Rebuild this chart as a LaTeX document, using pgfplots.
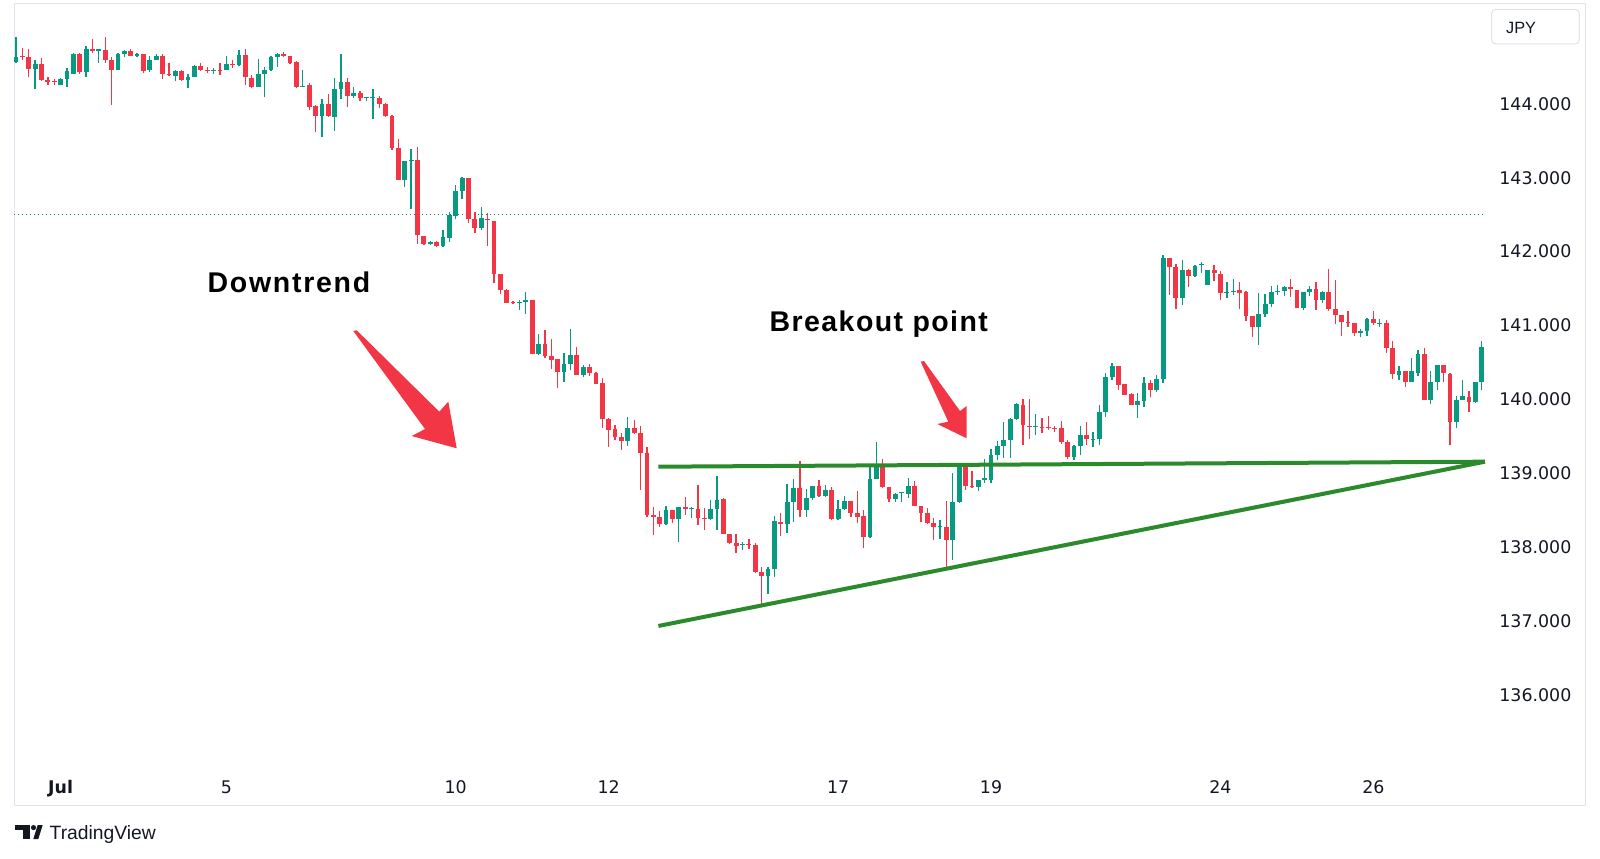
\documentclass[border=0pt]{standalone}
\usepackage{fontspec}
\setmainfont{Liberation Sans}
\newfontfamily\dejavu{DejaVu Sans}
\usepackage{pgfplots}
\usepackage{pgfplotstable}
\pgfplotsset{compat=1.18}
\definecolor{tvgreen}{RGB}{8,153,129}
\definecolor{tvred}{RGB}{242,54,69}
\definecolor{framegray}{RGB}{224,227,235}
\definecolor{txt}{RGB}{19,23,34}
\definecolor{trend}{RGB}{43,138,43}
\definecolor{dotline}{RGB}{20,130,110}

% rising candles (close >= open)
\pgfplotstableread{
i o h l c
0 144.57 144.91 144.56 144.63
3 144.47 144.60 144.20 144.54
7 144.26 144.35 144.25 144.34
8 144.34 144.48 144.23 144.44
9 144.41 144.69 144.41 144.68
11 144.43 144.78 144.37 144.74
13 144.72 144.75 144.56 144.74
16 144.46 144.69 144.46 144.68
17 144.68 144.73 144.63 144.72
19 144.65 144.69 144.64 144.68
21 144.46 144.65 144.43 144.59
22 144.59 144.68 144.59 144.65
25 144.38 144.46 144.31 144.45
27 144.32 144.40 144.21 144.37
28 144.37 144.53 144.37 144.51
31 144.45 144.49 144.41 144.46
33 144.46 144.65 144.46 144.54
35 144.53 144.73 144.51 144.66
38 144.23 144.61 144.23 144.40
39 144.41 144.50 144.09 144.46
40 144.46 144.65 144.45 144.63
41 144.63 144.69 144.50 144.67
45 144.23 144.46 144.23 144.24
48 143.835 144.065 143.55 143.996
50 143.825 144.35 143.63 144.20
51 144.20 144.67 144.06 144.29
53 144.11 144.23 144.075 144.15
55 144.075 144.09 144.04 144.085
56 144.08 144.20 143.80 144.085
61 142.968 143.226 142.878 143.226
62 143.226 143.384 142.58 143.24
65 142.10 142.142 142.087 142.133
67 142.073 142.295 142.065 142.193
68 142.19 142.535 142.13 142.49
69 142.483 142.906 142.437 142.823
70 142.82 143.017 142.71 142.994
73 142.326 142.61 142.29 142.45
79 141.309 141.352 141.214 141.32
80 141.32 141.458 141.15 141.343
82 140.62 140.887 140.597 140.749
86 140.372 140.634 140.234 140.478
87 140.476 140.954 140.393 140.60
89 140.336 140.465 140.304 140.442
96 139.44 139.761 139.37 139.609
102 138.308 138.552 138.299 138.497
104 138.377 138.548 138.07 138.543
106 138.52 138.543 138.391 138.529
109 138.377 138.635 138.368 138.52
110 138.52 138.966 138.23 138.644
114 138.027 138.073 137.967 138.041
118 137.614 137.738 137.37 137.70
119 137.70 138.419 137.60 138.351
121 138.315 138.853 138.195 138.609
122 138.607 138.929 138.345 138.805
124 138.506 138.782 138.414 138.667
125 138.666 138.827 138.643 138.827
127 138.689 138.836 138.68 138.767
129 138.377 138.635 138.368 138.515
130 138.515 138.699 138.508 138.621
134 138.141 139.096 138.119 138.923
135 138.921 139.427 138.921 139.096
138 138.649 138.732 138.617 138.718
139 138.732 138.751 138.617 138.744
140 138.723 138.939 138.663 138.824
145 138.269 138.361 138.117 138.287
147 138.095 138.998 137.826 138.609
148 138.609 139.119 138.595 139.119
151 138.82 138.912 138.765 138.912
152 138.912 139.197 138.866 138.935
153 138.912 139.33 138.866 139.254
154 139.252 139.436 139.174 139.367
155 139.367 139.69 139.206 139.449
156 139.449 139.751 139.206 139.738
157 139.734 139.955 139.725 139.932
160 139.62 139.809 139.519 139.634
166 139.214 139.384 139.186 139.37
167 139.368 139.635 139.244 139.52
169 139.456 139.552 139.35 139.47
170 139.46 139.928 139.382 139.826
171 139.826 140.352 139.756 140.307
172 140.305 140.498 140.268 140.452
176 139.923 140.084 139.748 139.978
177 139.975 140.302 139.897 140.228
179 140.127 140.334 140.095 140.274
180 140.274 141.957 140.216 141.912
183 141.368 141.882 141.276 141.746
185 141.671 141.823 141.653 141.809
186 141.814 141.855 141.717 141.832
187 141.547 141.75 141.547 141.745
190 141.435 141.596 141.366 141.458
191 141.458 141.628 141.412 141.468
195 140.983 141.434 140.73 141.158
196 141.152 141.433 141.12 141.295
197 141.293 141.532 141.256 141.449
198 141.449 141.555 141.417 141.472
199 141.472 141.541 141.403 141.523
202 141.233 141.449 141.21 141.449
203 141.449 141.541 141.394 141.495
205 141.348 141.463 141.311 141.449
211 140.893 140.948 140.838 140.925
212 140.925 141.10 140.856 141.091
214 141.024 141.09 140.975 141.039
217 140.33 140.455 140.265 140.39
219 140.24 140.56 140.24 140.378
220 140.364 140.662 140.32 140.617
222 139.995 140.378 139.94 140.24
223 140.24 140.468 140.13 140.468
226 139.70 140.04 139.61 139.995
227 139.995 140.265 139.99 140.04
229 139.959 140.229 139.95 140.229
230 140.229 140.784 140.13 140.716
}\candlesup

% falling candles (close < open)
\pgfplotstableread{
i o h l c
1 144.64 144.76 144.60 144.63
2 144.63 144.74 144.36 144.47
4 144.54 144.62 144.31 144.32
5 144.32 144.36 144.25 144.30
6 144.30 144.34 144.25 144.29
10 144.68 144.69 144.41 144.43
12 144.74 144.88 144.69 144.72
14 144.73 144.91 144.55 144.59
15 144.59 144.64 143.99 144.46
18 144.72 144.75 144.65 144.65
20 144.68 144.68 144.42 144.45
23 144.65 144.68 144.34 144.40
24 144.40 144.55 144.38 144.39
26 144.45 144.46 144.31 144.32
29 144.51 144.55 144.45 144.46
30 144.46 144.50 144.42 144.45
32 144.46 144.56 144.39 144.45
34 144.54 144.60 144.48 144.53
36 144.66 144.74 144.26 144.36
37 144.35 144.39 144.21 144.23
42 144.67 144.70 144.64 144.65
43 144.65 144.655 144.54 144.56
44 144.57 144.58 144.21 144.23
46 144.25 144.28 143.92 143.96
47 143.97 143.99 143.62 143.835
49 143.996 144.14 143.82 143.83
52 144.29 144.35 143.96 144.11
54 144.15 144.17 144.04 144.075
57 144.075 144.11 143.94 144.00
58 144.00 144.01 143.82 143.835
59 143.835 143.85 143.375 143.397
60 143.397 143.52 142.968 142.968
63 143.24 143.42 142.11 142.225
64 142.216 142.216 142.095 142.10
66 142.133 142.142 142.065 142.073
71 142.998 142.998 142.39 142.437
72 142.44 142.533 142.25 142.326
74 142.444 142.52 142.07 142.425
75 142.42 142.42 141.57 141.696
76 141.70 141.70 141.423 141.478
77 141.48 141.50 141.306 141.306
78 141.31 141.334 141.289 141.306
81 141.343 141.343 140.62 140.62
83 140.749 140.942 140.565 140.583
84 140.585 140.82 140.415 140.539
85 140.542 140.542 140.156 140.372
88 140.60 140.706 140.325 140.334
90 140.442 140.479 140.313 140.359
91 140.361 140.375 140.205 140.214
92 140.216 140.285 139.607 139.728
93 139.73 139.744 139.362 139.592
94 139.594 139.654 139.456 139.493
95 139.495 139.55 139.311 139.44
97 139.608 139.723 139.53 139.539
98 139.539 139.644 138.779 139.27
99 139.27 139.353 138.403 138.435
100 138.437 138.543 138.161 138.405
101 138.405 138.483 138.276 138.308
103 138.497 138.497 138.331 138.377
105 138.543 138.681 138.437 138.515
107 138.52 138.837 138.299 138.391
108 138.391 138.529 138.23 138.377
111 138.646 138.669 138.177 138.177
112 138.178 138.178 138.04 138.058
113 138.059 138.179 137.921 138.013
115 138.041 138.105 137.981 138.032
116 138.033 138.051 137.644 137.667
117 137.668 137.737 137.23 137.613
120 138.341 138.465 138.152 138.318
123 138.803 139.171 138.403 138.504
126 138.827 138.91 138.68 138.689
128 138.768 138.814 138.368 138.377
131 138.63 138.63 138.414 138.469
132 138.469 138.759 138.322 138.414
133 138.417 138.509 137.994 138.141
136 139.107 139.199 138.799 138.813
137 138.815 138.815 138.617 138.649
141 138.824 138.893 138.557 138.557
142 138.559 138.559 138.343 138.467
143 138.469 138.529 138.313 138.322
144 138.324 138.393 138.094 138.269
146 138.269 138.62 137.72 138.096
149 139.119 139.142 138.774 138.829
150 138.829 139.027 138.797 138.811
158 139.918 140.0 139.385 139.657
159 139.643 140.0 139.459 139.625
161 139.625 139.749 139.542 139.611
162 139.626 139.772 139.588 139.611
163 139.611 139.643 139.565 139.597
164 139.611 139.703 139.395 139.427
165 139.43 139.453 139.20 139.214
168 139.52 139.69 139.382 139.46
173 140.454 140.454 140.123 140.192
174 140.209 140.209 140.057 140.057
175 140.074 140.092 139.922 139.922
178 140.228 140.265 140.026 140.127
181 141.912 141.912 141.414 141.799
182 141.799 141.836 141.219 141.368
184 141.745 141.763 141.524 141.671
188 141.754 141.823 141.607 141.708
189 141.702 141.734 141.352 141.435
192 141.483 141.584 141.23 141.446
193 141.449 141.463 141.063 141.127
194 141.13 141.13 140.845 140.983
200 141.523 141.624 141.385 141.495
201 141.486 141.486 141.233 141.233
204 141.495 141.587 141.21 141.348
206 141.449 141.76 141.201 141.219
207 141.22 141.616 141.027 141.142
208 141.144 141.144 140.854 141.052
209 141.053 141.2 140.984 141.03
210 141.04 141.04 140.856 140.893
213 141.09 141.2 141.007 141.03
215 141.04 141.077 140.627 140.694
216 140.694 140.784 140.275 140.346
218 140.39 140.39 140.166 140.24
221 140.617 140.694 139.995 139.995
224 140.468 140.468 140.229 140.356
225 140.346 140.356 139.386 139.70
228 140.039 140.107 139.823 139.959
}\candlesdown

\begin{document}
\begin{tikzpicture}
\path[use as bounding box] (0,0) rectangle (800pt,429pt);
\begin{axis}[
  at={(7pt,427.35pt)}, anchor=north west,
  scale only axis, width=785.5pt, height=401.2pt,
  xmin=-0.314, xmax=246.2, ymin=134.50, ymax=145.362,
  axis line style={draw=framegray, line width=0.5pt},
  clip=false,
  major tick length=0pt,
  tick style={draw=none},
  ytick={136,137,138,139,140,141,142,143,144},
  yticklabels={136.000,137.000,138.000,139.000,140.000,141.000,142.000,143.000,144.000},
  ytick pos=right,
  yticklabel style={anchor=west, inner sep=0pt, xshift=-43pt, text=txt,
    font=\dejavu\fontsize{8.7pt}{10pt}\selectfont},
  xtick={7,33,69,93,129,153,189,213},
  xticklabels={\textbf{Jul},5,10,12,17,19,24,26},
  xtick pos=bottom,
  xticklabel style={anchor=base, inner sep=0pt, yshift=6.2pt, text=txt,
    font=\dejavu\fontsize{8.7pt}{10pt}\selectfont},
]
% dotted price line
\addplot[dotline, line width=0.75pt, dash pattern=on 0.6pt off 1.4pt, forget plot]
  coordinates {(-0.314,142.5) (230.5,142.5)};
% wicks
\addplot[tvgreen, line width=0.65pt, mark=none, forget plot, -,
  quiver={u=0, v=\thisrow{h}-\thisrow{l}}]
  table[x=i, y=l] {\candlesup};
\addplot[tvred, line width=0.65pt, mark=none, forget plot, -,
  quiver={u=0, v=\thisrow{h}-\thisrow{l}}]
  table[x=i, y=l] {\candlesdown};
% bodies
\addplot[tvgreen, line width=2.4pt, mark=none, forget plot, -,
  quiver={u=0, v={max(\thisrow{c}-\thisrow{o},0.014)}}]
  table[x=i, y=o] {\candlesup};
\addplot[tvred, line width=2.4pt, mark=none, forget plot, -,
  quiver={u=0, v={max(\thisrow{o}-\thisrow{c},0.014)}}]
  table[x=i, y=c] {\candlesdown};
% trend lines
\addplot[trend, line width=2pt, forget plot] coordinates {(100.8,139.089) (230.5,139.157)};
\addplot[trend, line width=2pt, forget plot] coordinates {(100.8,136.933) (230.5,139.157)};
\end{axis}
\begin{scope}[shift={(0pt,429pt)}, x=0.5pt, y=-0.5pt]
  % arrows
  \fill[tvred] (353.3,331) -- (425,429) -- (411.7,436) -- (456.7,448.3)
     -- (448.3,401.7) -- (439.3,411.7) -- (356.7,330.3) -- cycle;
  \fill[tvred] (920.7,361.7) -- (948.3,421.7) -- (937.3,424) -- (966.7,438.3)
     -- (966.7,406) -- (960,411) -- (924,361) -- cycle;
  % annotations
  \node[anchor=base west, inner sep=0pt, text=black,
    font=\fontsize{14.25pt}{16pt}\selectfont\bfseries\addfontfeatures{LetterSpace=6}]
    at (207.3,292.3) {Downtrend};
  \node[anchor=base west, inner sep=0pt, text=black,
    font=\fontsize{14.25pt}{16pt}\selectfont\bfseries\addfontfeatures{LetterSpace=5}]
    at (769.3,331.7) {Breakout point};
  % JPY box
  \draw[framegray, line width=0.5pt, fill=white, rounded corners=2pt]
    (1491.7,9.3) rectangle (1579.3,44);
  \node[anchor=base west, inner sep=0pt, text=txt,
    font=\fontsize{8.15pt}{10pt}\selectfont] at (1505.7,33.3) {JPY};
  % TradingView logo
  \fill[txt] (15,825) rectangle (30,830.3);
  \fill[txt] (22.7,825) rectangle (30,839);
  \fill[txt] (33.5,827.6) circle[radius=2.6];
  \fill[txt] (33.3,839) -- (38.3,839) -- (42.7,825) -- (37.7,825) -- cycle;
  \node[anchor=base west, inner sep=0pt, text=txt,
    font=\fontsize{9.65pt}{11pt}\selectfont] at (49.3,839) {TradingView};
\end{scope}
\end{tikzpicture}
\end{document}
